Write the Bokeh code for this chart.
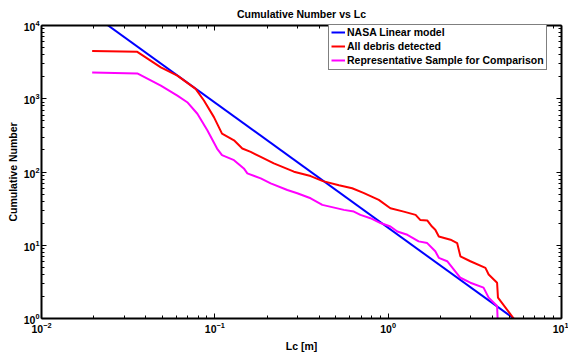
from bokeh.plotting import figure
from bokeh.models import LogAxis, FixedTicker, CustomJSTickFormatter, Legend, LegendItem, Range1d
from bokeh.embed import file_html
from bokeh.resources import INLINE

# NASA linear model
lc_nasa = [0.02, 5.3]
n_nasa = [13900, 1]

# All debris detected
lc_all = [0.0196, 0.0357, 0.0488, 0.0608, 0.0775, 0.0865, 0.0988, 0.110, 0.129, 0.144,
          0.161, 0.184, 0.219, 0.286, 0.357, 0.42, 0.52, 0.62, 0.72, 0.883,
          1.03, 1.23, 1.44, 1.53, 1.68, 1.79, 1.87, 1.96, 2.29, 2.50,
          2.61, 2.98, 3.64, 3.80, 4.25, 4.30, 5.30]
n_all = [4500, 4370, 2677, 2065, 1362, 946, 561, 334, 271, 209,
         188, 161, 131, 101, 88, 75, 66, 60, 52, 41.6,
         32, 28.8, 26, 22.2, 21.8, 18, 16.3, 13.2, 11.9, 10.7,
         7.07, 6.05, 4.92, 3.99, 3.08, 1.93, 1]

# Representative sample
lc_rep = [0.0196, 0.0357, 0.0488, 0.0608, 0.0693, 0.0793, 0.0905, 0.103, 0.110, 0.129,
          0.147, 0.154, 0.184, 0.210, 0.262, 0.299, 0.357, 0.417, 0.555, 0.634,
          0.692, 0.790, 0.903, 1.03, 1.13, 1.29, 1.50, 1.68, 1.87, 1.96,
          2.19, 2.61, 2.98, 3.55, 3.80, 4.25, 4.28]
n_rep = [2290, 2218, 1510, 1105, 897, 624, 371, 209, 170, 145,
         112, 95.7, 81.8, 70, 56.8, 51.3, 43.8, 35.6, 30.4, 28.8,
         26, 23.4, 20.1, 18, 15.4, 13.9, 11.3, 10.7, 8.27, 6.73,
         6.05, 3.6, 3.08, 2.64, 1.93, 1.48, 1]

x_major = [0.01, 0.1, 1, 10]
y_major = [1, 10, 100, 1000, 10000]
x_minor = [k * 10.0 ** e for e in range(-2, 1) for k in range(2, 10)]
y_minor = [k * 10.0 ** e for e in range(0, 4) for k in range(2, 10)]

FONT = "Liberation Sans"
FS = "10.5px"

p = figure(width=568, height=354, x_axis_type="log", y_axis_type="log",
           x_range=Range1d(0.01, 10), y_range=Range1d(1, 10000),
           output_backend="svg", toolbar_location=None,
           min_border_left=41, min_border_right=7, min_border_top=25, min_border_bottom=35,
           title="Cumulative Number vs Lc")
p.grid.visible = False
p.outline_line_color = None
p.background_fill_color = "white"
p.border_fill_color = "white"

p.title.text_font = FONT
p.title.text_font_size = FS
p.title.text_font_style = "bold"
p.title.text_color = "black"
p.title.align = "center"
p.title.standoff = 11

def style(ax):
    ax.axis_line_width = 2
    ax.axis_line_color = "black"
    ax.major_tick_in = 5
    ax.major_tick_out = 0
    ax.minor_tick_in = 3
    ax.minor_tick_out = 0
    ax.major_tick_line_color = "black"
    ax.minor_tick_line_color = "black"
    ax.major_tick_line_width = 1
    ax.minor_tick_line_width = 1
    ax.major_label_text_font = FONT
    ax.major_label_text_font_style = "bold"
    ax.major_label_text_font_size = FS
    ax.major_label_text_color = "black"
    ax.axis_label_text_font = FONT
    ax.axis_label_text_font_style = "bold"
    ax.axis_label_text_font_size = FS
    ax.axis_label_text_color = "black"

xt = FixedTicker(ticks=x_major, minor_ticks=x_minor)
yt = FixedTicker(ticks=y_major, minor_ticks=y_minor)

p.xaxis.ticker = xt
p.yaxis.ticker = yt
p.xaxis.axis_label = "Lc [m]"
p.yaxis.axis_label = "Cumulative Number"
for ax in p.xaxis + p.yaxis:
    style(ax)
p.xaxis.major_label_standoff = 3
p.yaxis.major_label_standoff = 2
p.xaxis.axis_label_standoff = 4
p.yaxis.axis_label_standoff = 2

blank = "return ''"
top = LogAxis(ticker=FixedTicker(ticks=x_major, minor_ticks=x_minor),
              formatter=CustomJSTickFormatter(code=blank))
right = LogAxis(ticker=FixedTicker(ticks=y_major, minor_ticks=y_minor),
                formatter=CustomJSTickFormatter(code=blank))
style(top)
style(right)
top.major_label_standoff = 0
right.major_label_standoff = 0
p.add_layout(top, "above")
p.add_layout(right, "right")

r1 = p.line(lc_nasa, n_nasa, line_color="#0000FF", line_width=2)
r2 = p.line(lc_all, n_all, line_color="#FF0000", line_width=2)
r3 = p.line(lc_rep, n_rep, line_color="#FF00FF", line_width=2)

legend = Legend(items=[LegendItem(label="NASA Linear model", renderers=[r1]),
                       LegendItem(label="All debris detected", renderers=[r2]),
                       LegendItem(label="Representative Sample for Comparison", renderers=[r3])],
                location=(287, 248))
legend.label_text_font = FONT
legend.label_text_font_style = "bold"
legend.label_text_font_size = FS
legend.label_text_color = "black"
legend.glyph_width = 14
legend.glyph_height = 14
legend.label_height = 14
legend.label_standoff = 2
legend.spacing = 0
legend.padding = 2
legend.margin = 0
legend.border_line_color = "black"
legend.border_line_width = 1
legend.background_fill_color = "white"
legend.background_fill_alpha = 1
p.add_layout(legend)

open("out.html", "w").write(file_html(p, INLINE))
